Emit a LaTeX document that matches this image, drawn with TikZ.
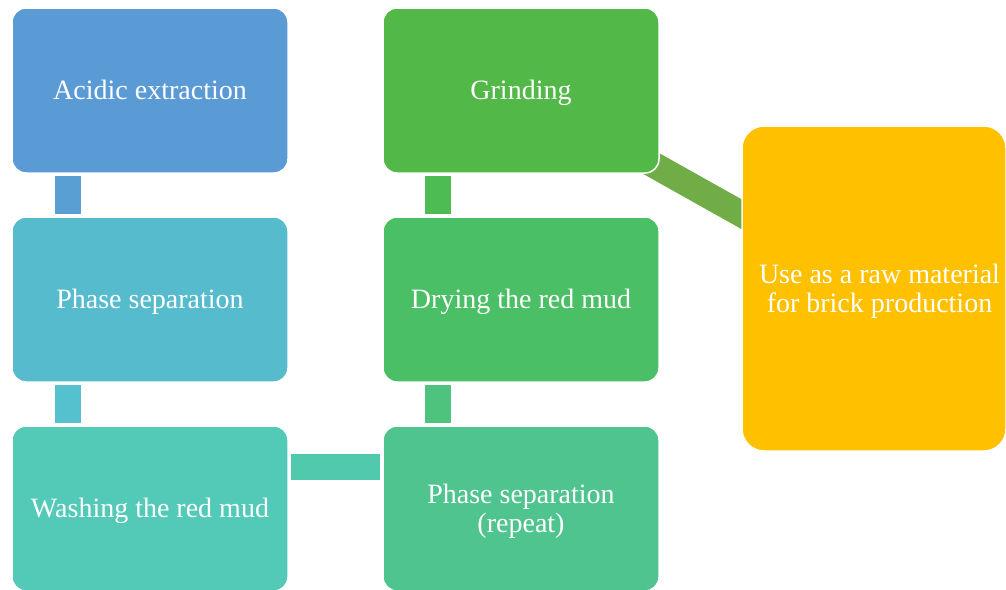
\documentclass[tikz,border=0pt]{standalone}
\usepackage{fontspec}
\setmainfont{Liberation Serif}
\definecolor{cA}{HTML}{5B9BD5}
\definecolor{cB}{HTML}{57BBCE}
\definecolor{cC}{HTML}{53C9B7}
\definecolor{cD}{HTML}{4FC48E}
\definecolor{cE}{HTML}{4ABF66}
\definecolor{cF}{HTML}{52B848}
\definecolor{cY}{HTML}{FFC000}
\definecolor{k1}{HTML}{5A9FD4}
\definecolor{k2}{HTML}{55C1CF}
\definecolor{k3}{HTML}{51C9AC}
\definecolor{k4}{HTML}{4DC37D}
\definecolor{k5}{HTML}{4DBC52}
\definecolor{k6}{HTML}{70AD47}
\newcommand\topstrut{\rule{0pt}{24.9pt}}
\newcommand\botstrut{\rule[-6.1pt]{0pt}{6.1pt}}
\begin{document}
\begin{tikzpicture}[x=1pt,y=-1pt,
  stepbox/.style={rectangle, rounded corners=14pt, draw=white, line width=1.5pt,
    minimum width=276pt, minimum height=165pt, text=white, align=center,
    font=\fontsize{28}{29.5}\selectfont, inner sep=0pt},
  oneline/.style={text height=24.9pt, text depth=6.1pt},
  link/.style={line width=26pt}]
\useasboundingbox (0,0) rectangle (1006,589);
% connectors first (behind boxes)
\coordinate (g0) at (521,90.5);
\coordinate (y0) at (874,288.5);
\draw[link, k6] (g0) -- (y0);
\node[stepbox, oneline, fill=cA] (a1) at (150,90.5) {Acidic extraction};
\node[stepbox, oneline, fill=cB] (a2) at (150,299.5) {Phase separation};
\node[stepbox, oneline, fill=cC] (a3) at (150,508.5) {Washing the red mud};
\node[stepbox, fill=cD] (b3) at (521,508.5) {\topstrut Phase separation\\(repeat)\botstrut};
\node[stepbox, oneline, fill=cE] (b2) at (521,299.5) {Drying the red mud};
\node[stepbox, oneline, fill=cF] (b1) at (521,90.5) {Grinding};
\node[stepbox, fill=cY, rounded corners=22pt, minimum width=264pt, minimum height=325pt] (y) at (874,288.5) {\topstrut\hspace*{11pt}Use as a raw material\\\hspace*{11pt}for brick production\botstrut};
% short connectors
\draw[link, k1] ([xshift=-82pt,yshift=-2pt]a1.south) -- ([xshift=-82pt,yshift=2pt]a2.north);
\draw[link, k2] ([xshift=-82pt,yshift=-2pt]a2.south) -- ([xshift=-82pt,yshift=2pt]a3.north);
\draw[link, k3] ([xshift=2pt,yshift=42pt]a3.east) -- ([xshift=-2pt,yshift=42pt]b3.west);
\draw[link, k4] ([xshift=-83pt,yshift=2pt]b3.north) -- ([xshift=-83pt,yshift=-2pt]b2.south);
\draw[link, k5] ([xshift=-83pt,yshift=2pt]b2.north) -- ([xshift=-83pt,yshift=-2pt]b1.south);
\end{tikzpicture}
\end{document}
